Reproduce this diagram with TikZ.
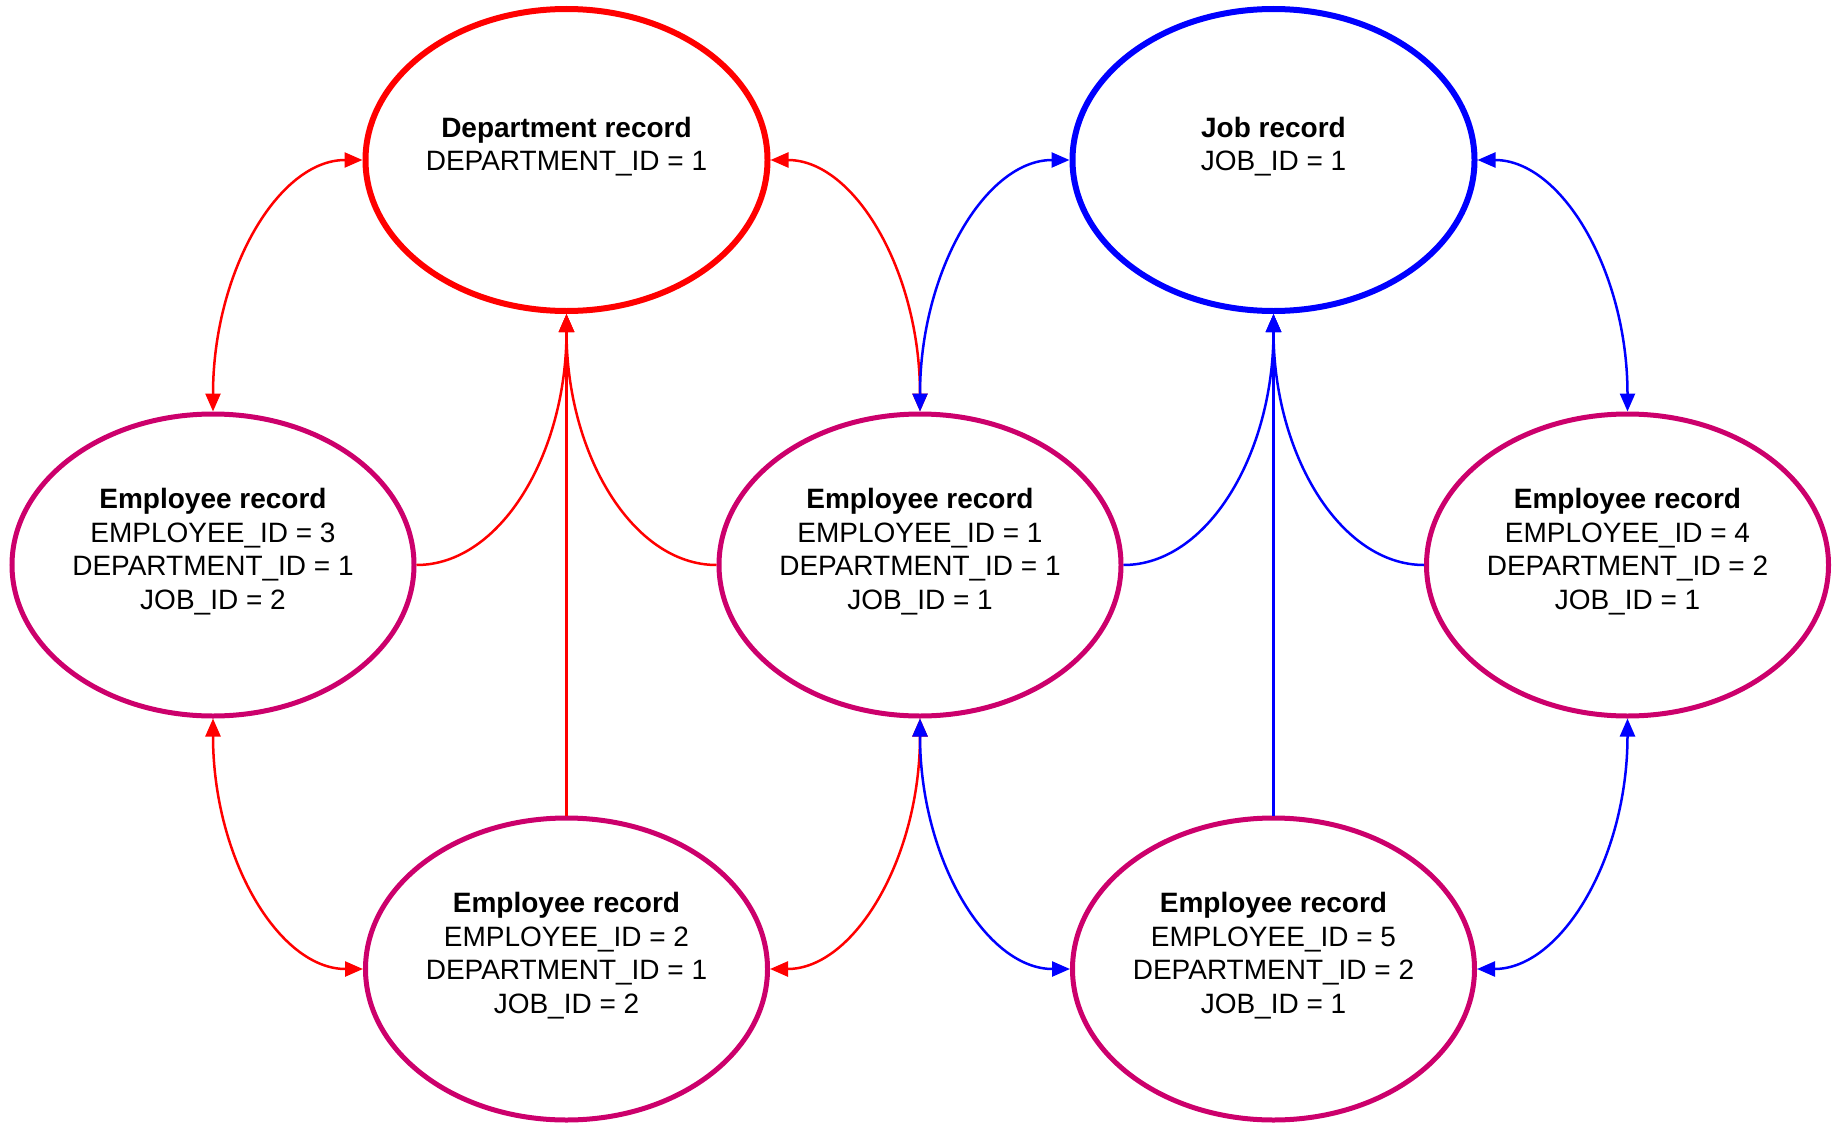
\documentclass[tikz,border=0pt]{standalone}
\usepackage{fontspec}
\setmainfont{Liberation Sans}
\usetikzlibrary{shapes.geometric,arrows.meta}
\definecolor{deptred}{RGB}{255,0,0}
\definecolor{jobblue}{RGB}{0,0,255}
\definecolor{empcol}{RGB}{204,0,108}

\begin{document}
\begin{tikzpicture}[x=1pt,y=1pt,
  >={Triangle[length=18pt,width=15pt]},
  record/.style={ellipse, draw, minimum width=402pt, minimum height=302pt, inner sep=0pt},
  deptrec/.style={record, draw=deptred, line width=6pt},
  jobrec/.style={record, draw=jobblue, line width=6pt},
  emprec/.style={record, draw=empcol, line width=5pt},
  rectext/.style={font=\fontsize{28}{33.7}\selectfont, align=center, inner sep=0pt, text=black},
  toptext/.style={rectext, yshift=13.5pt},
  emptext/.style={rectext, yshift=13.5pt},
  redlink/.style={draw=deptred, line width=2.5pt},
  bluelink/.style={draw=jobblue, line width=2.5pt},
  hv/.style={out distance=84pt, in distance=140pt},
  vh/.style={out distance=140pt, in distance=84pt},
]
\useasboundingbox (0,0) rectangle (1839,-1124);

% parent records
\node[deptrec, label={[toptext]center:{\textbf{Department record}\\DEPARTMENT\_ID = 1}}] (dept) at (566.5,-160) {};
\node[jobrec, label={[toptext]center:{\textbf{Job record}\\JOB\_ID = 1}}] (job) at (1273.5,-160) {};

% employee records
\node[emprec, label={[emptext]center:{\textbf{Employee record}\\EMPLOYEE\_ID = 3\\DEPARTMENT\_ID = 1\\JOB\_ID = 2}}] (e3) at (213,-565) {};
\node[emprec, label={[emptext]center:{\textbf{Employee record}\\EMPLOYEE\_ID = 1\\DEPARTMENT\_ID = 1\\JOB\_ID = 1}}] (e1) at (920,-565) {};
\node[emprec, label={[emptext]center:{\textbf{Employee record}\\EMPLOYEE\_ID = 4\\DEPARTMENT\_ID = 2\\JOB\_ID = 1}}] (e4) at (1627.5,-565) {};
\node[emprec, label={[emptext]center:{\textbf{Employee record}\\EMPLOYEE\_ID = 2\\DEPARTMENT\_ID = 1\\JOB\_ID = 2}}] (e2) at (566.5,-969) {};
\node[emprec, label={[emptext]center:{\textbf{Employee record}\\EMPLOYEE\_ID = 5\\DEPARTMENT\_ID = 2\\JOB\_ID = 1}}] (e5) at (1273.5,-969) {};

% department links
\draw[redlink,<->] (dept.west) to[out=180,in=90,hv] (e3.north);
\draw[redlink,<->] (dept.east) to[out=0,in=90,hv] (e1.north);
\draw[redlink,->] (e3.east) to[out=0,in=-90,hv] (dept.south);
\draw[redlink,->] (e1.west) to[out=180,in=-90,hv] (dept.south);
\draw[redlink,->] (e2.north) -- (dept.south);
\draw[redlink,<->] (e3.south) to[out=-90,in=180,vh] (e2.west);
\draw[redlink,<->] (e1.south) to[out=-90,in=0,vh] (e2.east);

% job links
\draw[bluelink,<->] (job.west) to[out=180,in=90,hv] (e1.north);
\draw[bluelink,<->] (job.east) to[out=0,in=90,hv] (e4.north);
\draw[bluelink,->] (e1.east) to[out=0,in=-90,hv] (job.south);
\draw[bluelink,->] (e4.west) to[out=180,in=-90,hv] (job.south);
\draw[bluelink,->] (e5.north) -- (job.south);
\draw[bluelink,<->] (e1.south) to[out=-90,in=180,vh] (e5.west);
\draw[bluelink,<->] (e4.south) to[out=-90,in=0,vh] (e5.east);
\end{tikzpicture}
\end{document}
